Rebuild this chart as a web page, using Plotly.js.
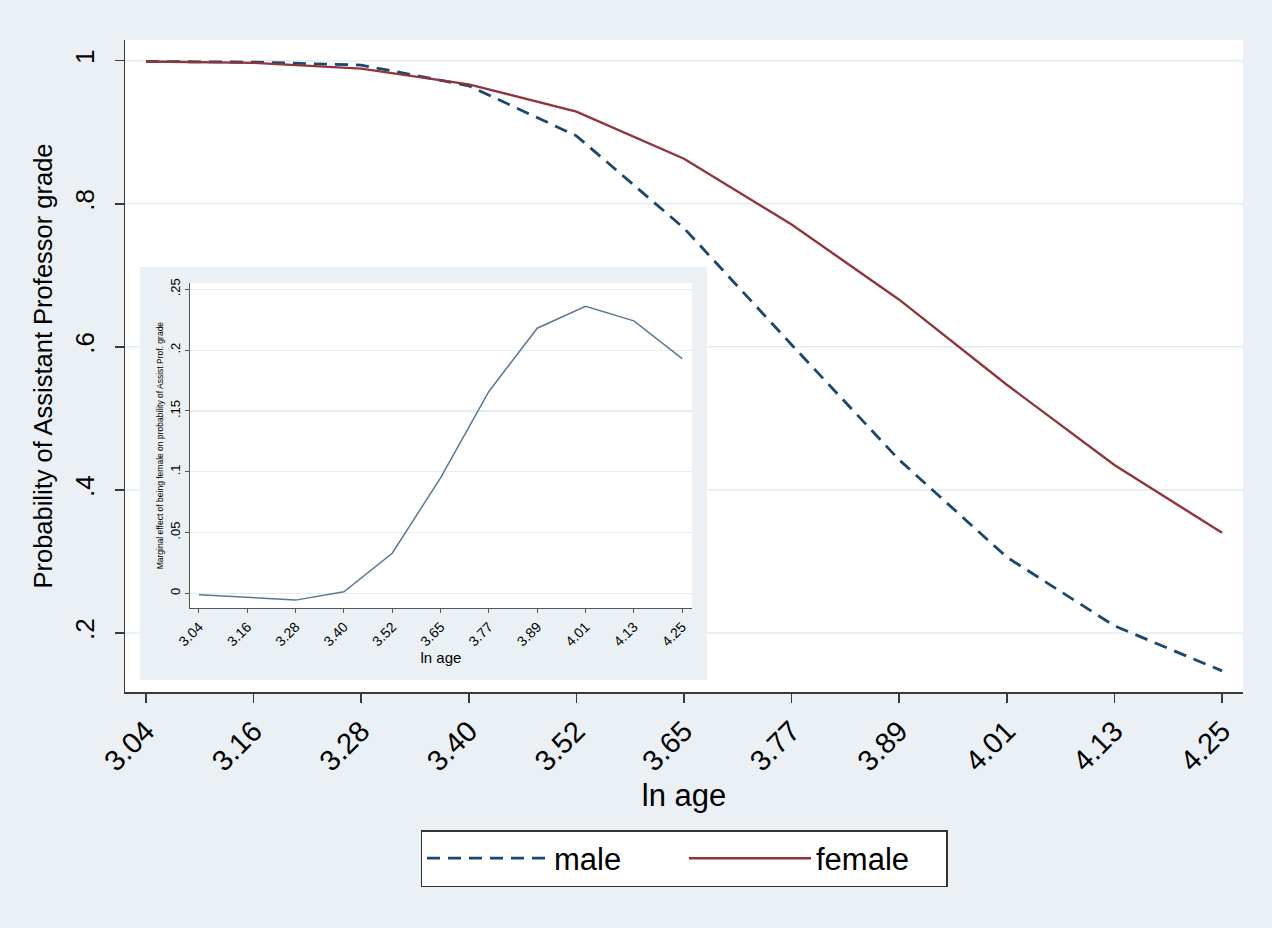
<!DOCTYPE html>
<html>
<head>
<meta charset="utf-8">
<script src="https://cdn.plot.ly/plotly-3.0.1.min.js"></script>
<style>html,body{margin:0;padding:0;background:#eaf0f3;}</style>
</head>
<body>
<div id="chart" style="width:1272px;height:928px;"></div>
<script>
// ---- data ----
const lnAge = ['3.04','3.16','3.28','3.40','3.52','3.65','3.77','3.89','4.01','4.13','4.25'];
const male   = [0.999, 0.998, 0.994, 0.965, 0.895, 0.766, 0.603, 0.442, 0.306, 0.210, 0.147];
const female = [0.999, 0.997, 0.989, 0.967, 0.929, 0.863, 0.771, 0.666, 0.547, 0.435, 0.340];
const marginalEffect = [-0.001, -0.003, -0.0055, 0.0014, 0.033, 0.095, 0.166, 0.218, 0.236, 0.224, 0.193];
const mainYTicks = [0.2, 0.4, 0.6, 0.8, 1];
const mainYLabels = ['.2', '.4', '.6', '.8', '1'];
const insetYTicks = [0, 0.05, 0.1, 0.15, 0.2, 0.25];
const insetYLabels = ['0', '.05', '.1', '.15', '.2', '.25'];

const FONT = 'Liberation Sans, Arial, Helvetica, sans-serif';
const BG = '#eaf0f3';
const GRID = '#e3ecef';
const AXIS = '#3a3a3a';

const traces = [
  {x: lnAge, y: male, name: 'male', type: 'scatter', mode: 'lines',
   line: {color: '#1a476f', width: 2.8, dash: '13px,8px'}, xaxis: 'x', yaxis: 'y'},
  {x: lnAge, y: female, name: 'female', type: 'scatter', mode: 'lines',
   line: {color: '#90353b', width: 2.4}, xaxis: 'x', yaxis: 'y'},
  {x: lnAge, y: marginalEffect, name: 'effect', type: 'scatter', mode: 'lines', showlegend: false,
   line: {color: '#5a7896', width: 1.5}, xaxis: 'x2', yaxis: 'y2'}
];

// decorative: main grid lines (below inset box), inset background, inset plot area
const shapes = mainYTicks.map(v => ({
  type: 'line', xref: 'paper', yref: 'y', x0: 0, x1: 1, y0: v, y1: v,
  line: {color: GRID, width: 1.5}, layer: 'below'
}));
shapes.push({type: 'rect', xref: 'paper', yref: 'paper', x0: 0.0134, x1: 0.5206, y0: 0.0184, y1: 0.6518,
  fillcolor: BG, line: {width: 0}, layer: 'below'});
shapes.push({type: 'rect', xref: 'paper', yref: 'paper', x0: 0.0581, x1: 0.507, y0: 0.1288, y1: 0.627,
  fillcolor: '#ffffff', line: {width: 0}, layer: 'below'});

const layout = {
  width: 1272, height: 928,
  margin: {l: 125, r: 29, t: 40, b: 236},
  paper_bgcolor: BG, plot_bgcolor: '#ffffff',
  font: {family: FONT, color: '#000'},
  showlegend: true,
  legend: {orientation: 'h', x: 0.5, xanchor: 'center', y: -0.2117, yanchor: 'top',
    bgcolor: '#ffffff', bordercolor: '#333', borderwidth: 1.5,
    font: {size: 31, family: FONT}, entrywidth: 125, entrywidthmode: 'pixels',
    itemwidth: 122, tracegroupgap: 0},
  xaxis: {type: 'category', domain: [0, 1], range: [-0.195, 10.195], anchor: 'y',
    showgrid: false, zeroline: false, showline: true, linecolor: AXIS, linewidth: 1.5,
    ticks: 'outside', ticklen: 9, tickwidth: 1.5, tickcolor: AXIS,
    tickangle: -45, tickfont: {size: 29, family: FONT},
    title: {text: 'ln age', font: {size: 31, family: FONT}, standoff: 8}},
  yaxis: {domain: [0, 1], range: [0.1175, 1.029], anchor: 'x',
    showgrid: false, zeroline: false, showline: true, linecolor: AXIS, linewidth: 1.5,
    ticks: 'outside', ticklen: 9, tickwidth: 1.5, tickcolor: AXIS,
    tickvals: mainYTicks, ticktext: mainYLabels, tickangle: -90, ticklabelstandoff: 10,
    tickfont: {size: 26, family: FONT},
    title: {text: 'Probability of Assistant Professor grade', font: {size: 25.5, family: FONT}, standoff: 10}},
  xaxis2: {type: 'category', domain: [0.0581, 0.507], range: [-0.186, 10.2], anchor: 'y2',
    showgrid: false, zeroline: false, showline: true, linecolor: '#555', linewidth: 1.2,
    ticks: 'outside', ticklen: 4, tickwidth: 1, tickcolor: '#555',
    tickangle: -45, tickfont: {size: 14, family: FONT},
    title: {text: 'ln age', font: {size: 15, family: FONT}, standoff: 2}},
  yaxis2: {domain: [0.1288, 0.627], range: [-0.012, 0.255], anchor: 'x2',
    showgrid: true, gridcolor: GRID, gridwidth: 1.2, zeroline: false,
    showline: true, linecolor: '#555', linewidth: 1.2,
    ticks: 'outside', ticklen: 4, tickwidth: 1, tickcolor: '#555',
    tickvals: insetYTicks, ticktext: insetYLabels, tickangle: -90,
    tickfont: {size: 13, family: FONT},
    title: {text: 'Marginal effect of being female on probability of Assist Prof. grade',
      font: {size: 8.5, family: FONT}, standoff: 2}},
  shapes: shapes
};

Plotly.newPlot('chart', traces, layout, {displayModeBar: false, staticPlot: true});
</script>
</body>
</html>
